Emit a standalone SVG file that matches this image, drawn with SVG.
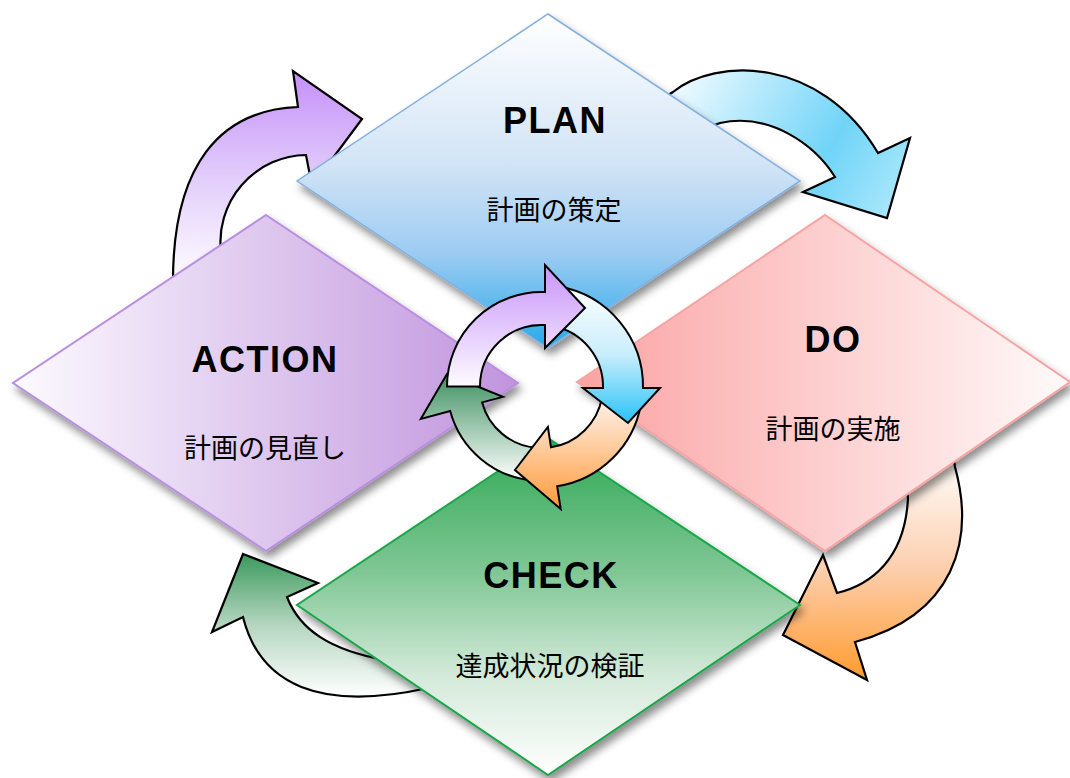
<svg xmlns="http://www.w3.org/2000/svg" width="1070" height="778" viewBox="0 0 1070 778">
<style>
.arr{stroke:#000;stroke-width:2.2;stroke-linejoin:miter}
.ring{stroke:#000;stroke-width:2;stroke-linejoin:miter}
.lat{font-family:"Liberation Sans","Noto Sans CJK JP",sans-serif;font-weight:bold;font-size:36px;letter-spacing:1.5px;fill:#000;text-anchor:middle}
.jp{font-family:"Noto Sans CJK JP",sans-serif;font-size:27px;fill:#000;text-anchor:middle}
</style>
<defs>
<filter id="sh" x="-10%" y="-10%" width="125%" height="130%">
<feDropShadow dx="3" dy="6" stdDeviation="4" flood-color="#000" flood-opacity="0.45"/>
</filter>
<linearGradient id="gPlan" x1="0" y1="0" x2="0" y2="1">
<stop offset="0" stop-color="#ffffff"/><stop offset="0.45" stop-color="#d2e4f6"/><stop offset="0.72" stop-color="#9ccbf2"/><stop offset="1" stop-color="#27aae8"/>
</linearGradient>
<linearGradient id="gDo" x1="0" y1="0" x2="1" y2="0">
<stop offset="0" stop-color="#fba3a3"/><stop offset="1" stop-color="#fffafa"/>
</linearGradient>
<linearGradient id="gCheck" x1="0" y1="0" x2="0" y2="1">
<stop offset="0" stop-color="#2ea854"/><stop offset="0.4" stop-color="#80c795"/><stop offset="0.7" stop-color="#d2e9d8"/><stop offset="1" stop-color="#ffffff"/>
</linearGradient>
<linearGradient id="gAct" x1="0" y1="0" x2="1" y2="0">
<stop offset="0" stop-color="#fcfaff"/><stop offset="1" stop-color="#c094dd"/>
</linearGradient>
<linearGradient id="aBlue" gradientUnits="userSpaceOnUse" x1="680" y1="90" x2="890" y2="215">
<stop offset="0" stop-color="#eaf9ff"/><stop offset="0.65" stop-color="#70d4f8"/><stop offset="1" stop-color="#a9e7fb"/>
</linearGradient>
<linearGradient id="aOrange" x1="0" y1="0" x2="0" y2="1">
<stop offset="0" stop-color="#ffffff"/><stop offset="0.5" stop-color="#fcd0b0"/><stop offset="1" stop-color="#ff9b2f"/>
</linearGradient>
<linearGradient id="aGreen" x1="0" y1="0" x2="0" y2="1">
<stop offset="0" stop-color="#3a9a5c"/><stop offset="0.5" stop-color="#b5d6c0"/><stop offset="1" stop-color="#ffffff"/>
</linearGradient>
<linearGradient id="aPurple" x1="0" y1="0" x2="0" y2="1">
<stop offset="0" stop-color="#c58ff9"/><stop offset="0.5" stop-color="#e2cdfb"/><stop offset="1" stop-color="#ffffff"/>
</linearGradient>
<linearGradient id="rPurple" x1="0" y1="0" x2="0" y2="1">
<stop offset="0" stop-color="#c894fb"/><stop offset="1" stop-color="#fdfbff"/>
</linearGradient>
<linearGradient id="rBlue" x1="0" y1="0" x2="0" y2="1">
<stop offset="0" stop-color="#ffffff"/><stop offset="0.5" stop-color="#c8edfc"/><stop offset="1" stop-color="#27c3f7"/>
</linearGradient>
<linearGradient id="rOrange" x1="0" y1="0" x2="0" y2="1">
<stop offset="0" stop-color="#fff4ee"/><stop offset="1" stop-color="#ff9a3a"/>
</linearGradient>
<linearGradient id="rGreen" x1="0" y1="0" x2="0" y2="1">
<stop offset="0" stop-color="#3e9160"/><stop offset="1" stop-color="#ffffff"/>
</linearGradient>
</defs>
<rect width="1070" height="778" fill="#ffffff"/>

<g id="connectors">
<path class="arr" fill="url(#aBlue)" d="M660,100 L673,92 C715,58 820,55 878,153 L910,138 L887,218 L803,192 L835,177 C815,145 770,112 720,123 L700,130 Z"/>
<path class="arr" fill="url(#aOrange)" d="M953,452 L955,467 C975,540 955,615 855,642 L867,680 L783,635 L823,555 L837,593 C870,585 905,560 908,498 L906,485 Z"/>
<path class="arr" fill="url(#aGreen)" d="M243,554 L318,583 L287,597 C300,630 330,650 385,660 L428,688 C320,712 260,685 243,617 L212,632 Z"/>
<path class="arr" fill="url(#aPurple)" d="M362,119 L312,186 L306,155 A87,87 0 0 0 221,252 L173,285 C172,165 220,110 298,107 L293,71 Z"/>
</g>

<g id="plan">
<polygon points="548,14 800,181 548,348 297,181" fill="url(#gPlan)" stroke="#84b0e0" stroke-width="1.5" filter="url(#sh)"/>
<text class="lat" x="555" y="133">PLAN</text>
<text class="jp" x="554" y="220">計画の策定</text>
</g>
<g id="do">
<polygon points="825,215 1070,382 825,551 577,382" fill="url(#gDo)" stroke="#f8a3a3" stroke-width="2" filter="url(#sh)"/>
<text class="lat" x="833" y="352">DO</text>
<text class="jp" x="833" y="439">計画の実施</text>
</g>
<g id="check">
<polygon points="548,438 800,605 548,775 297,605" fill="url(#gCheck)" stroke="#1aa64a" stroke-width="2" filter="url(#sh)"/>
<text class="lat" x="551" y="588">CHECK</text>
<text class="jp" x="550" y="676">達成状況の検証</text>
</g>
<g id="action">
<polygon points="266,215 518,383 266,551 13,383" fill="url(#gAct)" stroke="#b98ee0" stroke-width="2" filter="url(#sh)"/>
<text class="lat" x="265" y="372">ACTION</text>
<text class="jp" x="265" y="458">計画の見直し</text>
</g>

<g id="cycle">
<path class="ring" fill="url(#rGreen)" d="M533.3,480.6 A94.5,94.5 0 0 1 450.2,411 L420.8,418.9 L447,374 L502.9,396.9 L482.1,402.4 A61.5,61.5 0 0 0 536.1,447.8 Z"/>
<path class="ring" fill="url(#rOrange)" d="M641,404 A101,101 0 0 1 557.2,486.3 L560.7,509 L515,470 L547.9,427 L551,447.3 A61.5,61.5 0 0 0 602.1,397.2 Z"/>
<path class="ring" fill="url(#rBlue)" d="M559.1,286.5 A101.5,101.5 0 0 1 643,388 L660,388 L628,423 L583,388 L603,388 A61.5,61.5 0 0 0 552.2,325.9 Z"/>
<path class="ring" fill="url(#rPurple)" d="M447,386.5 A94.5,94.5 0 0 1 545,292.1 L545,265 L585,308 L545,348 L545,325.1 A61.5,61.5 0 0 0 480,386.5 Z"/>
</g>
</svg>
